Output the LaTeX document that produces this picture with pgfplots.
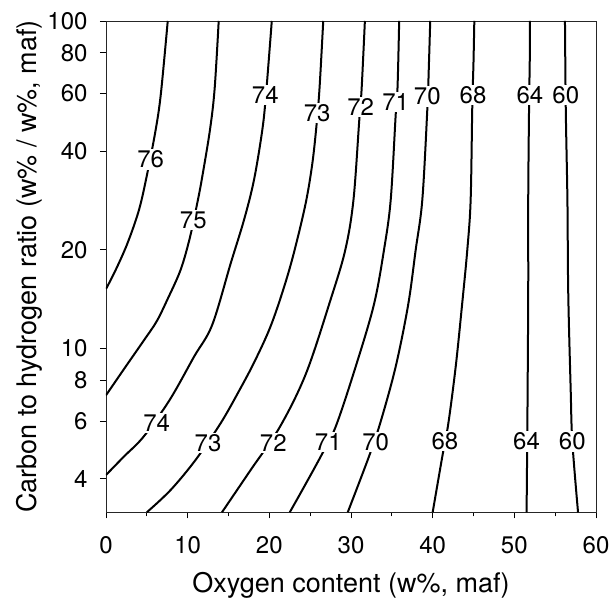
\documentclass[border=0pt]{standalone}
\usepackage{pgfplots}
\pgfplotsset{compat=1.18}
\usepackage{fontspec}
\setmainfont{TeX Gyre Heros}
\begin{document}
\begin{tikzpicture}
\begin{axis}[
  scale only axis,
  width=490pt, height=491.3pt,
  xmin=0, xmax=60,
  ymode=log, ymin=3.1623, ymax=100,
  xtick={0,10,20,30,40,50,60},
  minor xtick={5,15,25,35,45,55},
  ytick={4,6,8,10,20,40,60,80,100},
  yticklabels={4,6,8,10,20,40,60,80,100},
  minor ytick={},
  xtick pos=bottom, ytick pos=left,
  tick align=outside,
  major tick length=6pt, minor tick length=4pt,
  every tick/.style={black, line width=0.9pt},
  axis line style={line width=0.9pt, black!85},
  /pgf/number format/assume math mode=true,
  tick label style={font=\fontsize{24}{28}\selectfont},
  xticklabel style={yshift=-15pt},
  yticklabel style={xshift=-9pt},
  label style={font=\fontsize{27}{32}\selectfont},
  xlabel={Oxygen content (w\%, maf)},
  ylabel={Carbon to hydrogen ratio (w\% / w\%, maf)},
  xlabel style={at={(axis description cs:0.5,-0.1628)}, anchor=base},
  ylabel style={at={(axis description cs:-0.1426,0.5)}, anchor=base},
  clip=true,
]
\pgfplotsset{cline/.style={black, line width=2pt, smooth, tension=0.55}}
% 76
\addplot[cline] coordinates {(0,15.2) (1.15,17.3) (2.61,20.9) (4.04,26.5) (5.06,34.3) (6.08,46.5) (6.72,60) (7.56,100)};
% 75
\addplot[cline] coordinates {(0,7.2) (2.4,8.8) (4.65,10.6) (6.2,12.1) (7.51,14.1) (9.14,17.4) (10.29,21.9) (11.25,28.4) (11.79,33.5) (12.73,46.5) (13.3,62) (13.8,100)};
% 74
\addplot[cline] coordinates {(0,4.11) (2.2,4.68) (4.6,5.38) (7.8,6.97) (10.78,9.44) (13.0,11.8) (15.27,18.2) (16.9,24.7) (18.12,32.7) (19.14,46.5) (19.6,60) (20.3,100)};
% 73
\addplot[cline] coordinates {(5.0,3.1623) (7.92,3.70) (10.97,4.57) (14.03,5.91) (16.35,7.47) (18.28,9.22) (20.33,12.0) (22.5,17.6) (24.32,26.8) (25.21,35.9) (25.74,47) (26.14,62) (26.6,100)};
% 72
\addplot[cline] coordinates {(14.2,3.1623) (17.72,4.26) (21.3,5.77) (24.5,8.4) (27.5,14.1) (29.3,20) (30.3,28.4) (31.0,49.3) (31.3,62) (31.7,100)};
% 71
\addplot[cline] coordinates {(22.5,3.1623) (24.04,3.70) (26.29,4.68) (28.12,5.77) (30.57,8.8) (32.8,13.6) (34.04,20) (34.86,28.4) (35.47,51.6) (35.7,63) (35.9,100)};
% 70
\addplot[cline] coordinates {(29.6,3.1623) (32.2,4.68) (33.63,5.98) (35.47,8.8) (37.0,13.6) (37.92,20) (38.73,28.4) (39.34,53.5) (39.55,75) (39.7,100)};
% 68
\addplot[cline] coordinates {(40.0,3.1623) (41.18,4.68) (41.92,5.91) (42.82,8.8) (43.6,13.6) (44.24,20) (44.65,28.4) (44.85,54.7) (45.0,75) (45.1,100)};
% 64
\addplot[cline] coordinates {(51.5,3.1623) (51.6,6.06) (51.7,14.8) (51.7,28.4) (51.8,53.5) (51.9,80) (51.9,100)};
% 60
\addplot[cline] coordinates {(57.8,3.1623) (57.1,5.2) (56.9,7.48) (56.6,14.8) (56.5,28.4) (56.3,53.5) (56.2,100)};
% contour labels
\tikzset{clab/.style={fill=white, inner sep=1.5pt, font=\fontsize{24}{28}\selectfont}}
\node[clab] at (axis cs:5.47,37.8) {76};
\node[clab] at (axis cs:10.69,24.7) {75};
\node[clab] at (axis cs:19.5,59.5) {74};
\node[clab] at (axis cs:25.86,52.3) {73};
\node[clab] at (axis cs:31.18,54.7) {72};
\node[clab] at (axis cs:35.47,56.7) {71};
\node[clab] at (axis cs:39.34,58.8) {70};
\node[clab] at (axis cs:44.94,59.5) {68};
\node[clab] at (axis cs:51.9,59.5) {64};
\node[clab] at (axis cs:56.3,59.5) {60};
\node[clab] at (axis cs:6.2,5.93) {74};
\node[clab] at (axis cs:12.49,5.15) {73};
\node[clab] at (axis cs:20.49,5.15) {72};
\node[clab] at (axis cs:27.22,5.19) {71};
\node[clab] at (axis cs:33.02,5.19) {70};
\node[clab] at (axis cs:41.5,5.22) {68};
\node[clab] at (axis cs:51.5,5.2) {64};
\node[clab] at (axis cs:57.1,5.2) {60};
\end{axis}
\pgfresetboundingbox
\path (-106pt,-86.7pt) rectangle (507pt,512.3pt);
\end{tikzpicture}
\end{document}
